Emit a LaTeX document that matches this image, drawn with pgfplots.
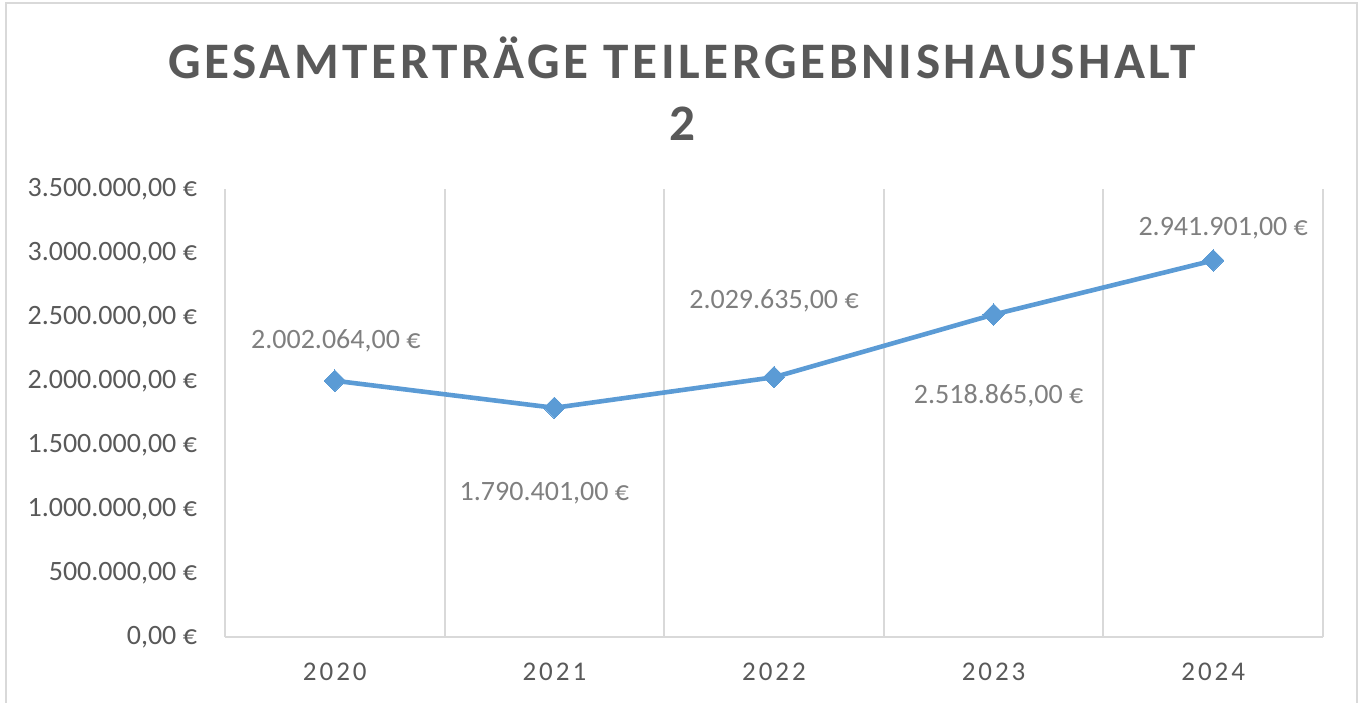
\documentclass[border=0pt]{standalone}
\usepackage{pgfplots}
\pgfplotsset{compat=1.18}
\usepackage{fontspec}
\setmainfont{Carlito}
\newfontfamily\spaced[LetterSpace=11]{Carlito}
\newfontfamily\titlefont[LetterSpace=7]{Carlito}
\definecolor{linecol}{HTML}{5B9BD5}
\definecolor{gridcol}{HTML}{D9D9D9}
\definecolor{tickcol}{HTML}{595959}
\definecolor{labcol}{HTML}{7F7F7F}
\begin{document}
\begin{tikzpicture}
\useasboundingbox (-112.5pt,-32.5pt) rectangle (569.5pt,318.5pt);
\draw[gridcol, line width=0.75pt] (-109.5pt,-33pt) -- (-109.5pt,317pt) -- (566pt,317pt) -- (566pt,-33pt);
\begin{axis}[
  at={(0,0)}, anchor=south west,
  scale only axis, width=549pt, height=224pt,
  xmin=-0.5, xmax=4.5, ymin=0, ymax=3500000,
  axis lines=left,
  x axis line style={gridcol, line width=1pt, -},
  y axis line style={draw=none},
  major tick length=0pt,
  scaled y ticks=false,
  xtick={0,1,2,3,4},
  xticklabels={2020,2021,2022,2023,2024},
  minor xtick={-0.5,0.5,1.5,2.5,3.5,4.5},
  minor x tick style={draw=none},
  xminorgrids=true,
  minor grid style={gridcol, line width=1pt},
  ytick={0,500000,1000000,1500000,2000000,2500000,3000000,3500000},
  yticklabels={{0,00 €},{500.000,00 €},{1.000.000,00 €},{1.500.000,00 €},{2.000.000,00 €},{2.500.000,00 €},{3.000.000,00 €},{3.500.000,00 €}},
  /pgf/number format/assume math mode=true,
  yticklabel style={font=\fontsize{14}{16}\selectfont, text=tickcol, anchor=east, xshift=-10.5pt},
  xticklabel style={font=\spaced\fontsize{13.5}{15}\selectfont, text=tickcol, yshift=-9.5pt},
  clip=false,
]
\addplot[linecol, line width=2.3pt, mark=square*, mark size=3.8pt, mark options={rotate=45, fill=linecol, draw=linecol, line width=0pt}]
  coordinates {(0,2002064) (1,1790401) (2,2029635) (3,2518865) (4,2941901)};
\begin{scope}[every node/.style={font=\fontsize{14}{16}\selectfont, text=labcol}]
\node at (axis cs:0,2002064) [xshift=0.5pt, yshift=20pt] {2.002.064,00 €};
\node at (axis cs:1,1790401) [xshift=-5pt, yshift=-42.5pt] {1.790.401,00 €};
\node at (axis cs:2,2029635) [yshift=38pt] {2.029.635,00 €};
\node at (axis cs:3,2518865) [xshift=2.5pt, yshift=-40.5pt] {2.518.865,00 €};
\node at (axis cs:4,2941901) [xshift=5pt, yshift=16pt] {2.941.901,00 €};
\end{scope}
\end{axis}
\node[font=\titlefont\bfseries\fontsize{25.6}{30}\selectfont, text=tickcol] at (228.5pt,289.5pt) {GESAMTERTRÄGE TEILERGEBNISHAUSHALT};
\node[font=\titlefont\bfseries\fontsize{25.6}{30}\selectfont, text=tickcol] at (228.5pt,256.5pt) {2};
\end{tikzpicture}
\end{document}
